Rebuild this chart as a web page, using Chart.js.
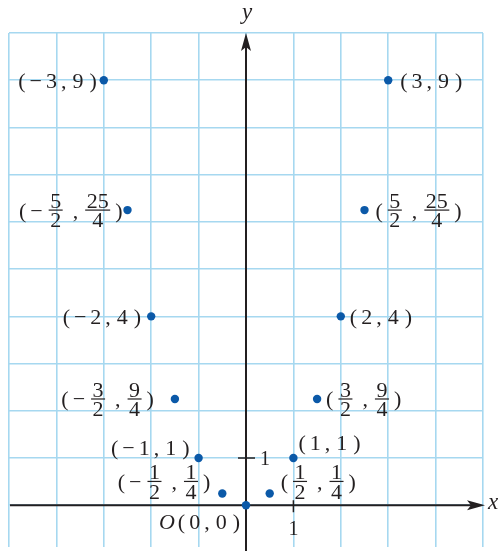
<!DOCTYPE html>
<html>
<head>
<meta charset="utf-8">
<script src="https://cdn.jsdelivr.net/npm/chart.js@4/dist/chart.umd.min.js"></script>
<style>
  html, body { margin: 0; padding: 0; background: #fff; }
</style>
</head>
<body>
<canvas id="parabola" width="501" height="551"></canvas>
<script>
// points (x, x^2) for x from -3 to 3 in steps of 1/2
const xValues = [-3, -2.5, -2, -1.5, -1, -0.5, 0, 0.5, 1, 1.5, 2, 2.5, 3];
const yValues = [9, 6.25, 4, 2.25, 1, 0.25, 0, 0.25, 1, 2.25, 4, 6.25, 9];

// unit marks on the axes
const xTickValues = [1];
const yTickValues = [1];

const INK = '#231f20';
const DOT = '#0b59a8';
const GRID = '#a6d8f0';
const FONT = '"Liberation Serif", "Times New Roman", serif';

// where each point label sits: which edge is anchored, and its offset from the dot
const labelPlace = [
  { align: 'right', dx: -7, dy: 0 },
  { align: 'right', dx: -5, dy: 0 },
  { align: 'right', dx: -10, dy: 0 },
  { align: 'right', dx: -21, dy: 0 },
  { align: 'right', dx: -9, dy: -10 },
  { align: 'right', dx: -12, dy: -12 },
  { align: 'right', dx: -6, dy: 16 },
  { align: 'left', dx: 11, dy: -12 },
  { align: 'left', dx: 5, dy: -15 },
  { align: 'left', dx: 9, dy: 0 },
  { align: 'left', dx: 9, dy: 0 },
  { align: 'left', dx: 11, dy: 0 },
  { align: 'left', dx: 12, dy: 0 }
];

// turn a value into a token: plain number or fraction with denominator 2 or 4
function numToken(v) {
  const a = Math.abs(v);
  for (const d of [1, 2, 4]) {
    const n = a * d;
    if (Math.abs(n - Math.round(n)) < 1e-9) {
      return d === 1 ? String(Math.round(n)) : { n: String(Math.round(n)), d: String(d) };
    }
  }
  return String(a);
}

function pointTokens(x, y) {
  const t = [];
  if (x === 0 && y === 0) t.push({ it: 'O' });
  t.push('(');
  if (x < 0) t.push('\u2212');
  t.push(numToken(x));
  t.push(',');
  if (y < 0) t.push('\u2212');
  t.push(numToken(y));
  t.push(')');
  return t;
}

const SIZE = 22;
const DIGIT_H = SIZE * 0.676;

function tokenWidth(ctx, t) {
  if (typeof t === 'string') {
    ctx.font = SIZE + 'px ' + FONT;
    return ctx.measureText(t).width;
  }
  if (t.it) {
    ctx.font = 'italic ' + SIZE + 'px ' + FONT;
    return ctx.measureText(t.it).width;
  }
  ctx.font = SIZE + 'px ' + FONT;
  return Math.max(ctx.measureText(t.n).width, ctx.measureText(t.d).width) + 3;
}

const isFrac = t => typeof t === 'object' && t.n !== undefined;

function gapBetween(a, b) {
  if (a && a.it) return 3;
  if (a === '\u2212' && isFrac(b)) return 6;
  if (a === '(' && isFrac(b)) return 5;
  if (isFrac(a) && b === ',') return 10;
  if (a === ',' && isFrac(b)) return 7;
  if (isFrac(a) && b === ')') return 5;
  if (a === ',') return 6;
  if (b === ')') return 6;
  return 4;
}

function drawToken(ctx, t, x, cy, w) {
  const base = cy + DIGIT_H / 2;
  if (typeof t === 'string') {
    ctx.font = SIZE + 'px ' + FONT;
    ctx.textAlign = 'left';
    ctx.fillText(t, x, base);
    return;
  }
  if (t.it) {
    ctx.font = 'italic ' + SIZE + 'px ' + FONT;
    ctx.textAlign = 'left';
    ctx.fillText(t.it, x, base);
    return;
  }
  ctx.font = SIZE + 'px ' + FONT;
  ctx.textAlign = 'center';
  ctx.fillText(t.n, x + w / 2, cy - 2);
  ctx.fillText(t.d, x + w / 2, cy + 2.5 + DIGIT_H);
  ctx.fillRect(x, cy - 0.6, w, 1.2);
}

function drawLabel(ctx, tokens, x, cy, align) {
  const widths = tokens.map(t => tokenWidth(ctx, t));
  let total = widths.reduce((s, w) => s + w, 0);
  for (let i = 1; i < tokens.length; i++) total += gapBetween(tokens[i - 1], tokens[i]);
  let cx = align === 'right' ? x - total : x;
  tokens.forEach((t, i) => {
    drawToken(ctx, t, cx, cy, widths[i]);
    if (i < tokens.length - 1) cx += widths[i] + gapBetween(t, tokens[i + 1]);
  });
}

// black axes with arrow heads and unit marks, under the dots
const axesPlugin = {
  id: 'axes',
  beforeDatasetsDraw(chart) {
    const { ctx } = chart;
    const xs = chart.scales.x, ys = chart.scales.y;
    const ox = xs.getPixelForValue(0), oy = ys.getPixelForValue(0);
    ctx.save();
    ctx.strokeStyle = INK;
    ctx.fillStyle = INK;
    ctx.lineWidth = 2;

    const xTip = xs.right + 2;
    ctx.beginPath();
    ctx.moveTo(xs.left + 1, oy);
    ctx.lineTo(xTip - 10, oy);
    ctx.stroke();
    ctx.beginPath();
    ctx.moveTo(xTip, oy);
    ctx.lineTo(xTip - 18, oy - 5);
    ctx.lineTo(xTip - 14, oy);
    ctx.lineTo(xTip - 18, oy + 5);
    ctx.closePath();
    ctx.fill();

    const yTip = ys.top;
    ctx.beginPath();
    ctx.moveTo(ox, chart.height);
    ctx.lineTo(ox, yTip + 10);
    ctx.stroke();
    ctx.beginPath();
    ctx.moveTo(ox, yTip);
    ctx.lineTo(ox - 5, yTip + 18);
    ctx.lineTo(ox, yTip + 14);
    ctx.lineTo(ox + 5, yTip + 18);
    ctx.closePath();
    ctx.fill();

    ctx.lineWidth = 1.5;
    ctx.font = '20px ' + FONT;
    ctx.textAlign = 'center';
    xTickValues.forEach(v => {
      const px = xs.getPixelForValue(v);
      ctx.beginPath();
      ctx.moveTo(px, oy - 5);
      ctx.lineTo(px, oy + 7);
      ctx.stroke();
      ctx.fillText(String(v), px, oy + 30);
    });
    yTickValues.forEach(v => {
      const py = ys.getPixelForValue(v);
      ctx.beginPath();
      ctx.moveTo(ox - 8, py);
      ctx.lineTo(ox + 9, py);
      ctx.stroke();
      ctx.fillText(String(v), ox + 19, py + 7);
    });

    ctx.font = 'italic 23px ' + FONT;
    ctx.fillText('x', xs.right + 10, oy + 4);
    ctx.fillText('y', ox + 1, ys.top - 14);
    ctx.restore();
  },
  afterDatasetsDraw(chart) {
    const { ctx } = chart;
    const xs = chart.scales.x, ys = chart.scales.y;
    ctx.save();
    ctx.fillStyle = INK;
    ctx.textBaseline = 'alphabetic';
    xValues.forEach((x, i) => {
      const p = labelPlace[i];
      const px = xs.getPixelForValue(x), py = ys.getPixelForValue(yValues[i]);
      drawLabel(ctx, pointTokens(x, yValues[i]), px + p.dx, py + p.dy, p.align);
    });
    ctx.restore();
  }
};

const gridOpts = { color: GRID, lineWidth: 1.6, drawTicks: false };

new Chart(document.getElementById('parabola'), {
  type: 'scatter',
  data: {
    datasets: [{
      data: xValues.map((x, i) => ({ x: x, y: yValues[i] })),
      backgroundColor: DOT,
      borderWidth: 0,
      pointRadius: 4.2,
      clip: false
    }]
  },
  options: {
    responsive: false,
    animation: false,
    layout: { padding: { left: 9, right: 18, top: 33, bottom: 0 } },
    scales: {
      x: {
        type: 'linear', min: -5, max: 5,
        ticks: { display: false, stepSize: 1 },
        grid: gridOpts,
        border: { display: false }
      },
      y: {
        type: 'linear', min: -0.88, max: 10,
        ticks: { display: false, stepSize: 1 },
        afterBuildTicks: s => { s.ticks = s.ticks.filter(t => Number.isInteger(t.value)); },
        grid: gridOpts,
        border: { display: false }
      }
    },
    plugins: { legend: { display: false }, tooltip: { enabled: false } }
  },
  plugins: [axesPlugin]
});
</script>
</body>
</html>
